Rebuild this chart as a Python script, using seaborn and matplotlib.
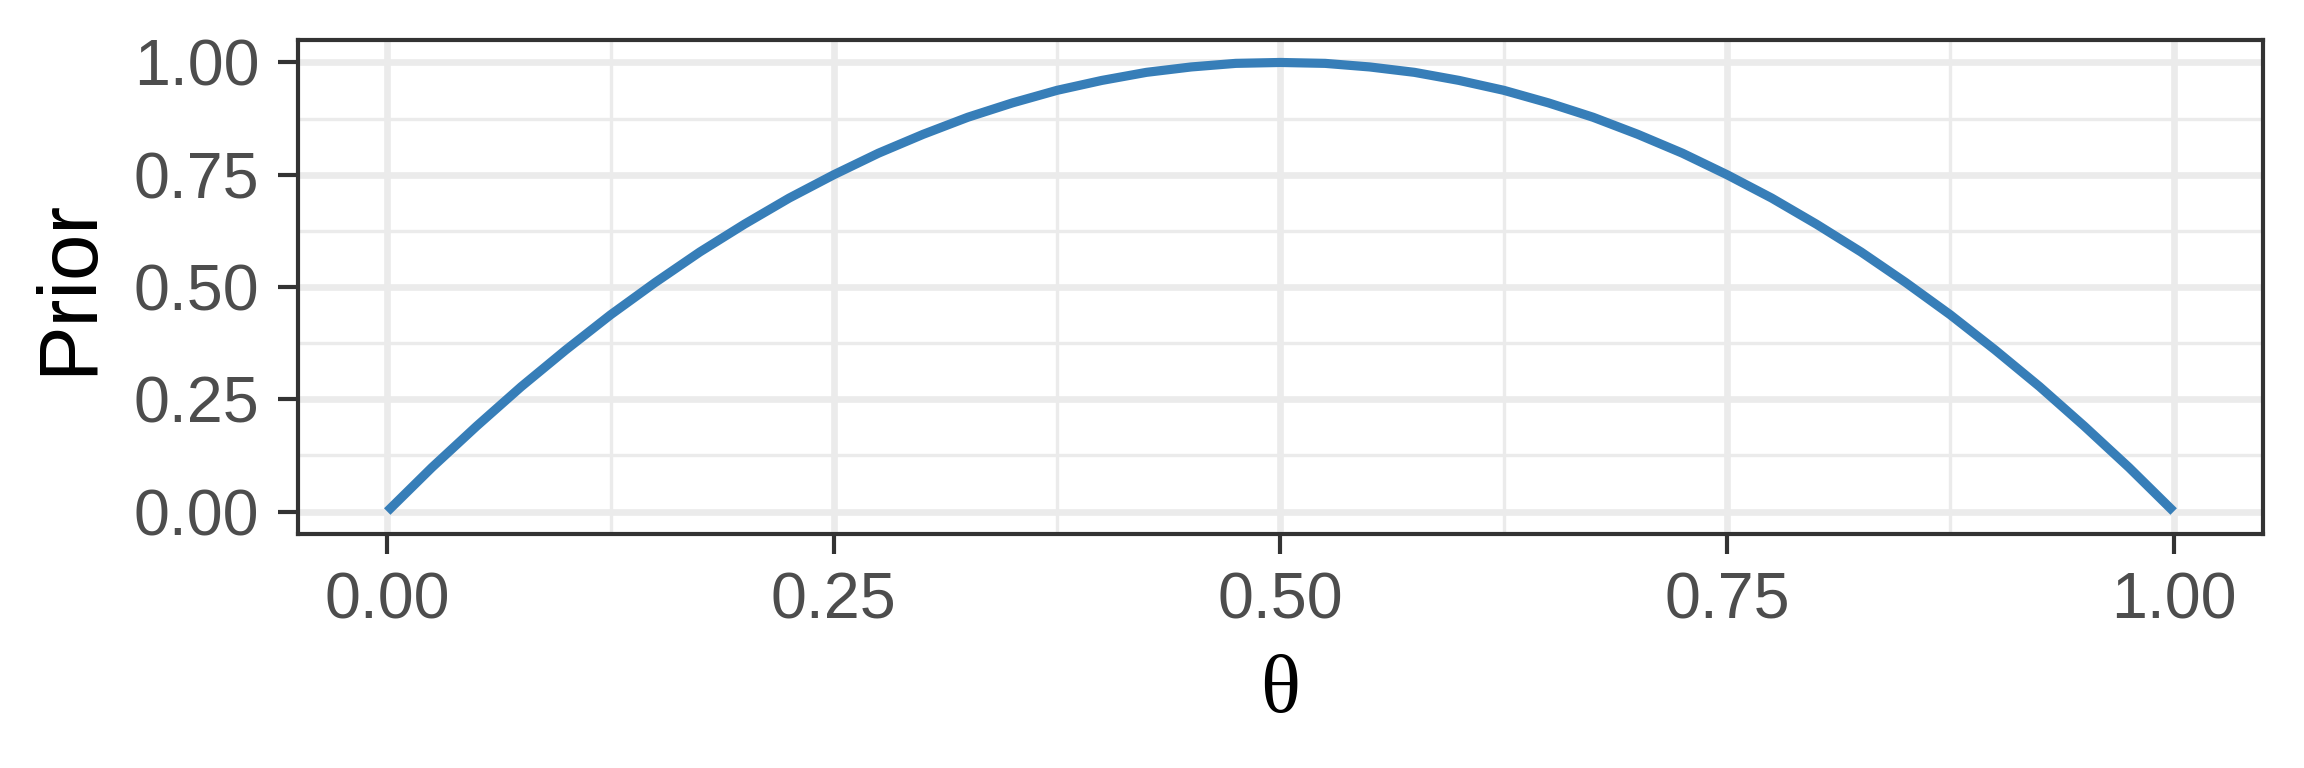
import matplotlib
matplotlib.use("Agg")
import matplotlib.pyplot as plt
import seaborn as sns
import pandas as pd
from matplotlib.ticker import MultipleLocator

theta = [0.000, 0.025, 0.050, 0.075, 0.100, 0.125, 0.150, 0.175, 0.200, 0.225,
         0.250, 0.275, 0.300, 0.325, 0.350, 0.375, 0.400, 0.425, 0.450, 0.475,
         0.500, 0.525, 0.550, 0.575, 0.600, 0.625, 0.650, 0.675, 0.700, 0.725,
         0.750, 0.775, 0.800, 0.825, 0.850, 0.875, 0.900, 0.925, 0.950, 0.975, 1.000]
prior = [0.000, 0.098, 0.190, 0.278, 0.360, 0.438, 0.510, 0.578, 0.640, 0.698,
         0.750, 0.798, 0.840, 0.878, 0.910, 0.938, 0.960, 0.978, 0.990, 0.998,
         1.000, 0.998, 0.990, 0.978, 0.960, 0.938, 0.910, 0.878, 0.840, 0.798,
         0.750, 0.698, 0.640, 0.578, 0.510, 0.438, 0.360, 0.278, 0.190, 0.098, 0.000]
tick_vals = [0.00, 0.25, 0.50, 0.75, 1.00]
tick_labels = ["0.00", "0.25", "0.50", "0.75", "1.00"]

df = pd.DataFrame({"theta": theta, "prior": prior})

sns.set_theme(style="white")
plt.rcParams["font.family"] = ["Liberation Sans", "DejaVu Sans"]

fig = plt.figure(figsize=(7.68, 2.56), dpi=300)
ax = fig.add_axes([0.1293, 0.3047, 0.9822 - 0.1293, 0.9479 - 0.3047])

sns.lineplot(data=df, x="theta", y="prior", ax=ax, color="#377EB8",
             linewidth=2.2, solid_capstyle="butt", solid_joinstyle="round", zorder=3)

ax.set_xlim(-0.05, 1.05)
ax.set_ylim(-0.05, 1.05)
ax.set_xticks(tick_vals)
ax.set_xticklabels(tick_labels)
ax.set_yticks(tick_vals)
ax.set_yticklabels(tick_labels)
ax.xaxis.set_minor_locator(MultipleLocator(0.125))
ax.yaxis.set_minor_locator(MultipleLocator(0.125))

ax.grid(which="major", color="#EBEBEB", linewidth=1.6, zorder=0)
ax.grid(which="minor", color="#EBEBEB", linewidth=0.8, zorder=0)
ax.set_axisbelow(True)

for s in ax.spines.values():
    s.set_visible(True)
    s.set_color("#333333")
    s.set_linewidth(1.0)

ax.tick_params(axis="both", which="major", length=4.8, width=1.0, color="#333333",
               labelsize=15.5, labelcolor="#4D4D4D", bottom=True, left=True)
ax.tick_params(axis="y", which="major", pad=4.5)
ax.tick_params(axis="x", which="major", pad=4.2)
ax.tick_params(axis="both", which="minor", length=0)

ax.set_xlabel("θ", fontsize=20, color="black",
              fontfamily=["Liberation Serif", "DejaVu Serif"], labelpad=5.5)
ax.set_ylabel("Prior", fontsize=20, color="black", labelpad=6)

fig.savefig("out.png", dpi=300, facecolor="white")
